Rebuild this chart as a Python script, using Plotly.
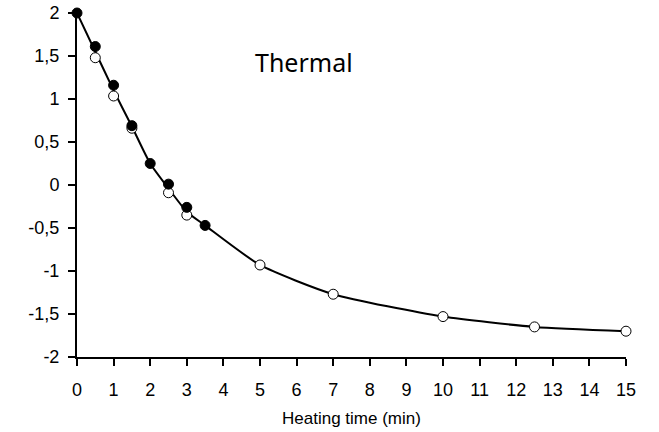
import plotly.graph_objects as go

# Data
filled_x = [0, 0.5, 1, 1.5, 2, 2.5, 3, 3.5]
filled_y = [2.0, 1.61, 1.16, 0.69, 0.25, 0.01, -0.26, -0.47]

open_x = [0.5, 1, 1.5, 2.5, 3, 5, 7, 10, 12.5, 15]
open_y = [1.48, 1.035, 0.66, -0.09, -0.35, -0.93, -1.27, -1.53, -1.65, -1.70]

curve_x = [0, 0.5, 1, 1.5, 2, 2.5, 3, 3.5, 5, 7, 10, 12.5, 15]
curve_y = [2.0, 1.55, 1.10, 0.68, 0.25, -0.04, -0.31, -0.47, -0.93, -1.27, -1.53, -1.65, -1.70]

x_ticks = list(range(0, 16))
y_ticks = [2, 1.5, 1, 0.5, 0, -0.5, -1, -1.5, -2]
y_ticktext = ["2", "1,5", "1", "0,5", "0", "-0,5", "-1", "-1,5", "-2"]

fig = go.Figure()
fig.add_trace(go.Scatter(
    x=curve_x, y=curve_y, mode="lines",
    line=dict(color="black", width=2, shape="spline", smoothing=0.6),
    cliponaxis=False, showlegend=False, hoverinfo="skip"))
fig.add_trace(go.Scatter(
    x=open_x, y=open_y, mode="markers",
    marker=dict(size=10, color="white", line=dict(color="black", width=1)),
    cliponaxis=False, showlegend=False))
fig.add_trace(go.Scatter(
    x=filled_x, y=filled_y, mode="markers",
    marker=dict(size=10, color="black", line=dict(color="black", width=1)),
    cliponaxis=False, showlegend=False))

axis_font = dict(family="Liberation Sans, Arial, sans-serif", size=18, color="black")

fig.update_layout(
    width=659, height=432,
    margin=dict(l=77, r=33, t=13, b=75),
    paper_bgcolor="white", plot_bgcolor="white",
    xaxis=dict(
        range=[0, 15], tickvals=x_ticks, showgrid=False, zeroline=False,
        showline=True, linecolor="black", linewidth=2,
        ticks="outside", ticklen=7, tickwidth=1.5, tickcolor="black",
        tickfont=axis_font, ticklabelstandoff=8, automargin=False,
        ticklabeloverflow="allow",
    ),
    yaxis=dict(
        range=[-2, 2], tickvals=y_ticks, ticktext=y_ticktext, showgrid=False, zeroline=False,
        showline=True, linecolor="black", linewidth=2,
        ticks="outside", ticklen=7, tickwidth=1.5, tickcolor="black",
        tickfont=axis_font, ticklabelstandoff=5, automargin=False,
        ticklabeloverflow="allow",
    ),
    annotations=[
        dict(
            text="Thermal", xref="paper", yref="paper",
            x=(253 - 77) / 549, y=(357 - 62) / 344, xanchor="left", yanchor="middle",
            showarrow=False,
            font=dict(family="Noto Sans, sans-serif", size=25, color="black"),
        ),
        dict(
            text="Heating time (min)", xref="paper", yref="paper",
            x=0.5, y=-(419 - 357) / 344, xanchor="center", yanchor="middle",
            showarrow=False,
            font=dict(family="Liberation Sans, Arial, sans-serif", size=17, color="black"),
        ),
    ],
)

# remove the browser's default 8px body margin so the figure fills the window
fig.write_html("out.html", config={"displayModeBar": False},
               post_script="document.body.style.margin='0';")
